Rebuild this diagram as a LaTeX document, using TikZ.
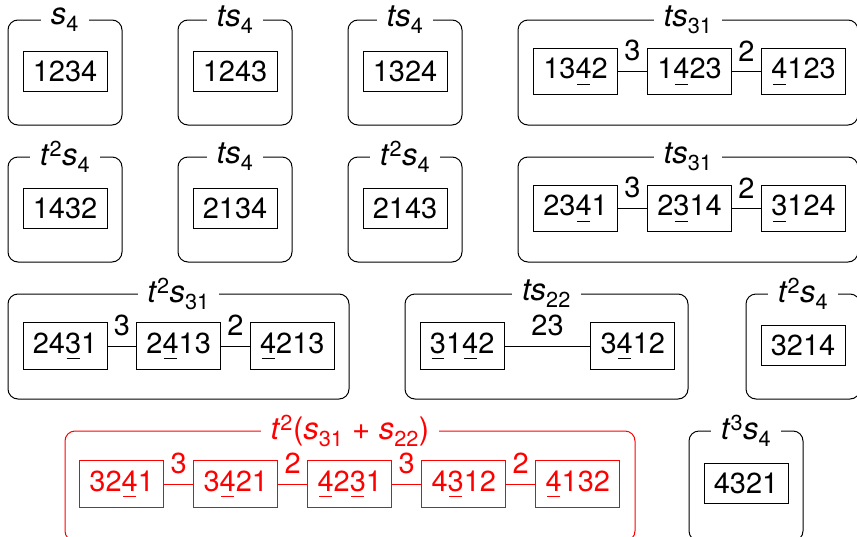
\documentclass[tikz,border=0pt]{standalone}
\usepackage{fontspec}
\setmainfont{TeX Gyre Heros}
% digit with a short rule below it
\newsavebox\udbox
\newcommand\ud[1]{\sbox\udbox{#1}\rlap{\hbox to\wd\udbox{\hss\vrule height -5.2pt depth 6.4pt width 0.8\wd\udbox\hss}}\usebox\udbox}
\newcommand\ti[1]{\textit{#1}}
\begin{document}
\begin{tikzpicture}[x=1pt,y=-1pt,
  font=\fontsize{29}{35}\selectfont,
  perm/.style={draw, line width=0.8pt, inner sep=9.7pt},
  grp/.style={draw, line width=1pt, rounded corners=10pt},
  grptitle/.style={fill=white, inner sep=9.7pt, font=\fontsize{31}{37}\selectfont},
  lnk/.style={line width=0.8pt},
  elab/.style={above, inner sep=9.7pt}]
\useasboundingbox (0,0) rectangle (857,536);
\clip (0,0) rectangle (857,536);

% ---------- row 1 ----------
\draw[grp] (8,20) rectangle (122,125);
\node[grptitle] (t11) at (65,20) {\ti{s}\textsubscript{4}};
\node[perm] (p11) at (65,71.5) {1234};

\draw[grp] (178,20) rectangle (292,125);
\node[grptitle] (t12) at (235,20) {\ti{ts}\textsubscript{4}};
\node[perm] (p12) at (235,71.5) {1243};

\draw[grp] (348,20) rectangle (462,125);
\node[grptitle] (t13) at (405,20) {\ti{ts}\textsubscript{4}};
\node[perm] (p13) at (405,71.5) {1324};

\draw[grp] (518,20) rectangle (858,125);
\node[grptitle] (t14) at (688,20) {\ti{ts}\textsubscript{31}};
\node[perm] (p14a) at (575.5,71.5) {13\ud{4}2};
\node[perm] (p14b) at (689.5,71.5) {1\ud{4}23};
\node[perm] (p14c) at (803.5,71.5) {\ud{4}123};
\draw[lnk] (p14a) -- node[elab] (l14a) {3} (p14b);
\draw[lnk] (p14b) -- node[elab] (l14b) {2} (p14c);

% ---------- row 2 ----------
\draw[grp] (8,157) rectangle (122,262);
\node[grptitle] (t21) at (65,157) {\ti{t}\textsuperscript{2}\ti{s}\textsubscript{4}};
\node[perm] (p21) at (65,208.5) {1432};

\draw[grp] (178,157) rectangle (292,262);
\node[grptitle] (t22) at (235,157) {\ti{ts}\textsubscript{4}};
\node[perm] (p22) at (235,208.5) {2134};

\draw[grp] (348,157) rectangle (462,262);
\node[grptitle] (t23) at (405,157) {\ti{t}\textsuperscript{2}\ti{s}\textsubscript{4}};
\node[perm] (p23) at (405,208.5) {2143};

\draw[grp] (518,157) rectangle (858,262);
\node[grptitle] (t24) at (688,157) {\ti{ts}\textsubscript{31}};
\node[perm] (p24a) at (575.5,208.5) {23\ud{4}1};
\node[perm] (p24b) at (689.5,208.5) {2\ud{3}14};
\node[perm] (p24c) at (803.5,208.5) {\ud{3}124};
\draw[lnk] (p24a) -- node[elab] (l24a) {3} (p24b);
\draw[lnk] (p24b) -- node[elab] (l24b) {2} (p24c);

% ---------- row 3 ----------
\draw[grp] (8,294) rectangle (349,399);
\node[grptitle] (t31) at (178.5,294) {\ti{t}\textsuperscript{2}\ti{s}\textsubscript{31}};
\node[perm] (p31a) at (65,346) {24\ud{3}1};
\node[perm] (p31b) at (178.7,346) {2\ud{4}13};
\node[perm] (p31c) at (292.3,346) {\ud{4}213};
\draw[lnk] (p31a) -- node[elab] (l31a) {3} (p31b);
\draw[lnk] (p31b) -- node[elab] (l31b) {2} (p31c);

\draw[grp] (405,294) rectangle (688,399);
\node[grptitle] (t32) at (546.5,294) {\ti{ts}\textsubscript{22}};
\node[perm] (p32a) at (462.2,346) {\ud{3}1\ud{4}2};
\node[perm] (p32b) at (632.8,346) {3\ud{4}12};
\draw[lnk] (p32a) -- node[elab] (l32) {23} (p32b);

\draw[grp] (746,294) rectangle (860,399);
\node[grptitle] (t33) at (803,294) {\ti{t}\textsuperscript{2}\ti{s}\textsubscript{4}};
\node[perm] (p33) at (803,345.5) {3214};

% ---------- row 4 ----------
\begin{scope}[red]
\draw[grp] (65,431) rectangle (635,541);
\node[grptitle] (t41) at (350,431) {\ti{t}\textsuperscript{2}(\ti{s}\textsubscript{31} + \ti{s}\textsubscript{22})};
\node[perm] (p41a) at (121.7,484) {32\ud{4}1};
\node[perm] (p41b) at (235.8,484) {3\ud{4}21};
\node[perm] (p41c) at (349.8,484) {\ud{4}2\ud{3}1};
\node[perm] (p41d) at (463.8,484) {4\ud{3}12};
\node[perm] (p41e) at (577.8,484) {\ud{4}132};
\draw[lnk] (p41a) -- node[elab] (l41a) {3} (p41b);
\draw[lnk] (p41b) -- node[elab] (l41b) {2} (p41c);
\draw[lnk] (p41c) -- node[elab] (l41c) {3} (p41d);
\draw[lnk] (p41d) -- node[elab] (l41d) {2} (p41e);
\end{scope}

\draw[grp] (689,431) rectangle (803,541);
\node[grptitle] (t42) at (746,431) {\ti{t}\textsuperscript{3}\ti{s}\textsubscript{4}};
\node[perm] (p42) at (746,483.5) {4321};
\end{tikzpicture}
\end{document}
